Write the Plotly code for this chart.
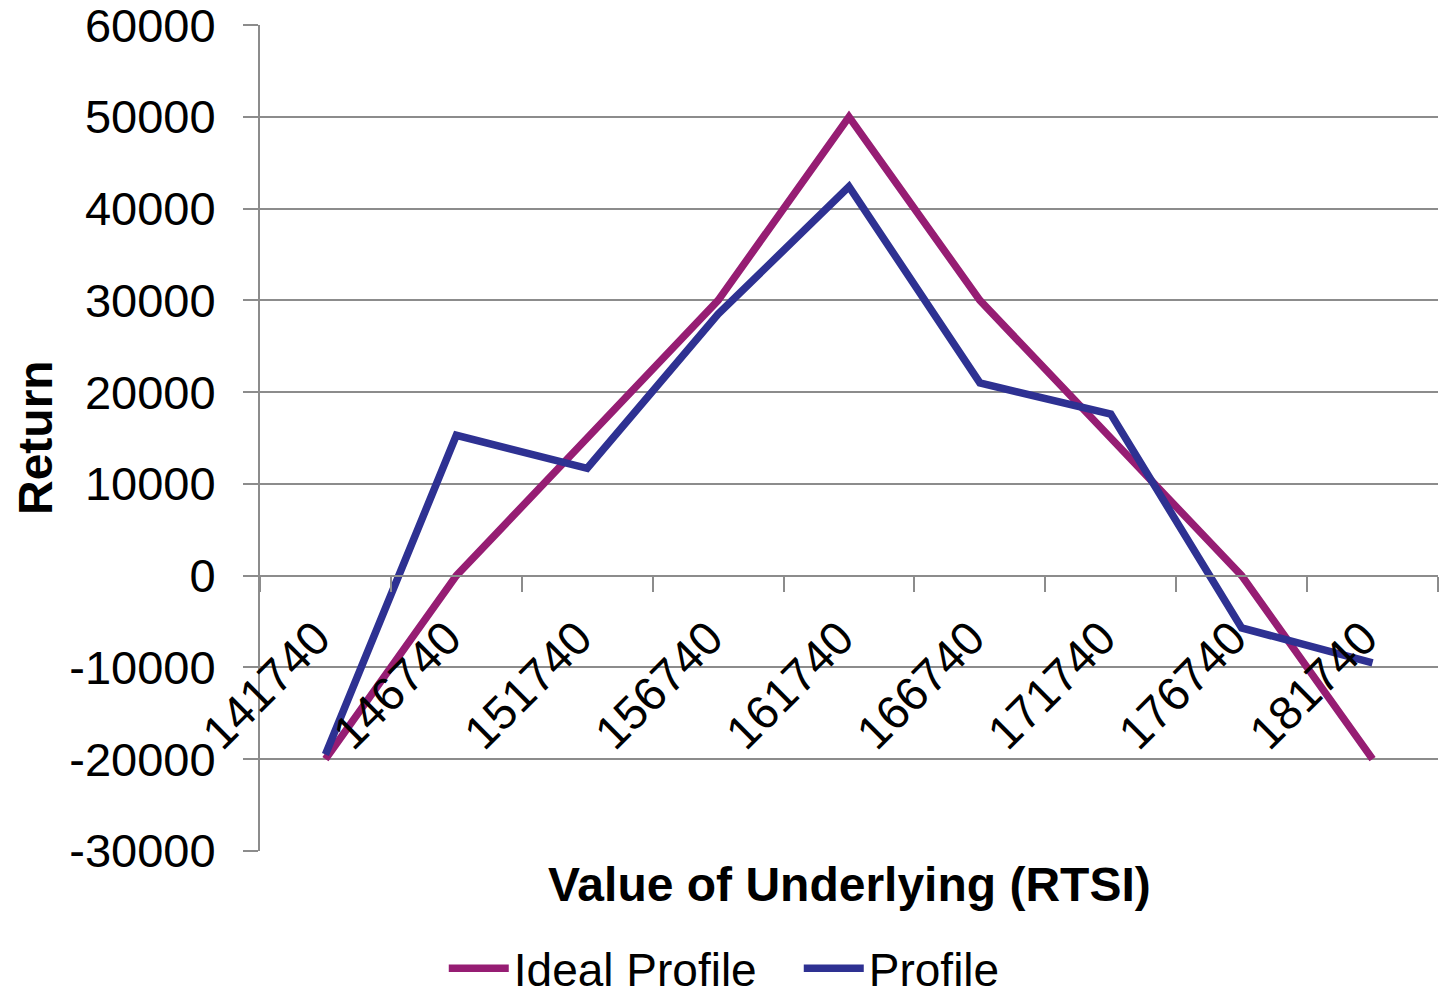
import plotly.graph_objects as go

underlying = ["141740", "146740", "151740", "156740", "161740",
              "166740", "171740", "176740", "181740"]
ideal_profile = [-20000, 0, 15000, 30000, 50000, 30000, 15000, 0, -20000]
profile = [-19500, 15300, 11700, 28500, 42400, 21000, 17600, -5700, -9500]
return_ticks = [-30000, -20000, -10000, 0, 10000, 20000, 30000, 40000, 50000, 60000]
return_labels = [str(v) for v in return_ticks]

FONT = "Arial, Liberation Sans, sans-serif"
GRID = "#8c8c8c"

fig = go.Figure()
fig.add_trace(go.Scatter(x=underlying, y=ideal_profile, mode="lines", name="Ideal Profile",
                         line=dict(color="#961D73", width=7.5)))
fig.add_trace(go.Scatter(x=underlying, y=profile, mode="lines", name="Profile",
                         line=dict(color="#2E3192", width=7.5)))

# tiny padding so the end ticks are not dropped
y_min, y_max = return_ticks[0] - 15, return_ticks[-1] + 15

fig.update_layout(
    width=1441, height=999,
    margin=dict(l=260, r=3, t=25, b=148, autoexpand=False),
    paper_bgcolor="white", plot_bgcolor="white",
    font=dict(family=FONT, size=47, color="black"),
    showlegend=True,
    legend=dict(orientation="h", x=0.156, y=-0.142, xanchor="left", yanchor="middle",
                font=dict(size=46), itemwidth=60, entrywidth=280,
                bgcolor="rgba(0,0,0,0)"),
    xaxis=dict(type="category", range=[-0.5, len(underlying) - 0.5],
               anchor="free", position=(0 - y_min) / (y_max - y_min), automargin=False,
               tickson="boundaries", ticks="outside", ticklen=15, tickwidth=2, tickcolor=GRID,
               showline=True, linecolor=GRID, linewidth=2, showgrid=False,
               tickangle=-45, ticklabelstandoff=15, ticklabelshift=-9,
               tickfont=dict(size=47)),
    yaxis=dict(range=[y_min, y_max], tickvals=return_ticks, ticktext=return_labels,
               ticks="outside", ticklen=15, tickwidth=2, automargin=False,
               ticklabeloverflow="allow",
               tickcolor=GRID, showline=True, linecolor=GRID, linewidth=2,
               showgrid=True, gridcolor=GRID, gridwidth=2, zeroline=False,
               ticklabelstandoff=18, tickfont=dict(size=47)),
    annotations=[
        dict(text="<b>Value of Underlying (RTSI)</b>", xref="paper", yref="paper",
             x=0.5, y=-0.041, xanchor="center", yanchor="middle", showarrow=False,
             font=dict(size=48)),
        dict(text="<b>Return</b>", xref="paper", yref="paper", textangle=-90,
             x=-0.191, y=0.5, xanchor="center", yanchor="middle", showarrow=False,
             font=dict(size=48)),
    ],
)

# drop the default 8px page margin so the figure fills the window
fig.write_html("out.html", config={"displayModeBar": False},
               post_script="document.body.style.margin='0';")
